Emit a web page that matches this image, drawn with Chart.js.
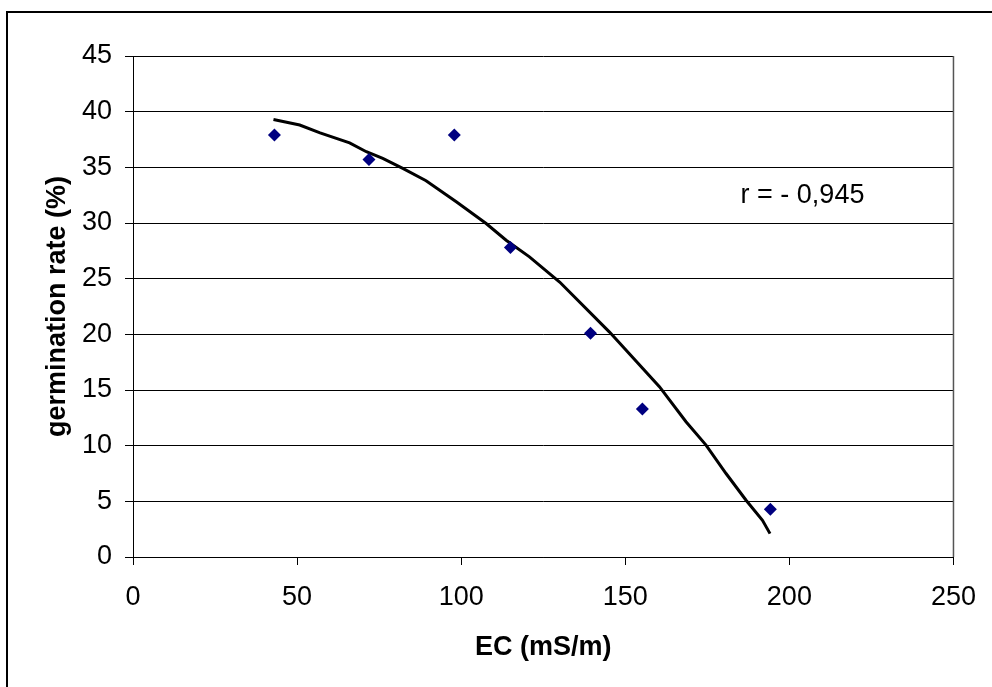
<!DOCTYPE html>
<html>
<head>
<meta charset="utf-8">
<script src="https://cdn.jsdelivr.net/npm/chart.js@4.4.1/dist/chart.umd.min.js"></script>
<style>
  body { margin: 0; background: #fff; }
  #wrap { width: 992px; height: 687px; }
</style>
</head>
<body>
<div id="wrap"><canvas id="chart" width="992" height="687"></canvas></div>
<script>
// measured points
const ecValues = [43.1, 71.9, 97.9, 115.0, 139.4, 155.2, 194.2];
const germinationRates = [37.9, 35.7, 37.9, 27.8, 20.1, 13.3, 4.3];

// trend curve
const trendEC = [42.8, 50.8, 57.0, 66.0, 71.1, 76.1, 82.2, 89.3, 98.5, 107.6, 113.7, 120.8, 130.0, 145.2, 160.4, 168.5, 174.6, 180.7, 186.8, 191.8, 194.1];
const trendRate = [39.3, 38.8, 38.1, 37.2, 36.4, 35.8, 34.9, 33.8, 31.9, 29.95, 28.45, 26.96, 24.7, 20.2, 15.3, 12.15, 10.05, 7.5, 5.1, 3.3, 2.1];

const xRange = [0, 250, 50];
const yRange = [0, 45, 5];
const corrText = "r = - 0,945";
const corrPos = [204, 32.5];

const fontFamily = "'Liberation Sans', Arial, sans-serif";
const fontSize = 27;

const toPoints = (xs, ys) => xs.map((x, i) => ({ x: x, y: ys[i] }));

// outer frame + right edge of plot + r label
const extras = {
  id: "extras",
  beforeDraw(chart) {
    const ctx = chart.ctx;
    ctx.save();
    ctx.fillStyle = "#fff";
    ctx.fillRect(0, 0, chart.width, chart.height);
    ctx.strokeStyle = "#000";
    ctx.lineWidth = 2;
    ctx.beginPath();
    ctx.moveTo(7, chart.height);
    ctx.lineTo(7, 12);
    ctx.lineTo(chart.width, 12);
    ctx.stroke();
    ctx.restore();
  },
  afterDatasetsDraw(chart) {
    const ctx = chart.ctx;
    const { chartArea } = chart;
    ctx.save();
    ctx.strokeStyle = "#555";
    ctx.lineWidth = 1.5;
    ctx.beginPath();
    ctx.moveTo(chartArea.right, chartArea.top);
    ctx.lineTo(chartArea.right, chartArea.bottom);
    ctx.stroke();

    ctx.fillStyle = "#000";
    ctx.font = fontSize + "px " + fontFamily;
    ctx.textAlign = "center";
    ctx.textBaseline = "middle";
    ctx.fillText(
      corrText,
      chart.scales.x.getPixelForValue(corrPos[0]),
      chart.scales.y.getPixelForValue(corrPos[1])
    );
    ctx.restore();
  },
};

new Chart(document.getElementById("chart"), {
  type: "scatter",
  data: {
    datasets: [
      {
        label: "germination rate",
        data: toPoints(ecValues, germinationRates),
        pointStyle: "rectRot",
        pointRadius: 6.5,
        backgroundColor: "#000080",
        borderColor: "#000080",
        borderWidth: 0,
      },
      {
        label: "trend",
        data: toPoints(trendEC, trendRate),
        showLine: true,
        pointRadius: 0,
        borderColor: "#000",
        borderWidth: 3,
        tension: 0,
      },
    ],
  },
  options: {
    responsive: false,
    animation: false,
    layout: { padding: { top: 56, right: 37, left: 0, bottom: 0 } },
    plugins: {
      legend: { display: false },
      tooltip: { enabled: false },
    },
    scales: {
      x: {
        type: "linear",
        min: xRange[0],
        max: xRange[1],
        ticks: {
          stepSize: xRange[2],
          color: "#000",
          padding: 16,
          font: { family: fontFamily, size: fontSize },
        },
        grid: {
          drawOnChartArea: false,
          tickLength: 8,
          tickColor: "#000",
          tickWidth: 1,
        },
        border: { color: "#000", width: 1 },
        title: {
          display: true,
          text: "EC (mS/m)",
          color: "#000",
          font: { family: fontFamily, size: fontSize, weight: "bold" },
          padding: { top: 0, bottom: 23 },
        },
        afterFit: (scale) => {
          scale.height = 130;
        },
      },
      y: {
        type: "linear",
        min: yRange[0],
        max: yRange[1],
        ticks: {
          stepSize: yRange[2],
          color: "#000",
          padding: 13,
          font: { family: fontFamily, size: fontSize },
        },
        grid: {
          color: "#000",
          lineWidth: 1,
          tickLength: 8,
          tickColor: "#000",
        },
        border: { color: "#000", width: 1 },
        title: {
          display: true,
          text: "germination rate (%)",
          color: "#000",
          font: { family: fontFamily, size: fontSize, weight: "bold" },
          padding: { top: 41, bottom: 0 },
        },
        afterFit: (scale) => {
          scale.width = 133;
        },
      },
    },
  },
  plugins: [extras],
});
</script>
</body>
</html>
